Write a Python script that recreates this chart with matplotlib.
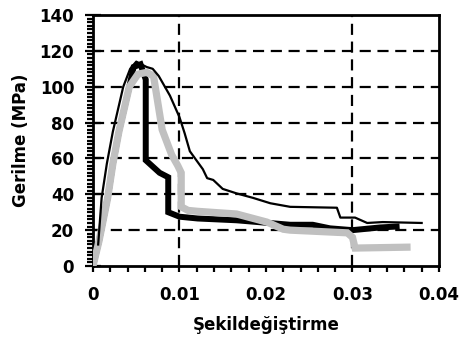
import matplotlib
matplotlib.use("Agg")
import matplotlib.pyplot as plt
from matplotlib.ticker import MultipleLocator

plt.rcParams['font.family'] = ['DejaVu Sans']
plt.rcParams['font.weight'] = 'bold'

# ince siyah egri
ince_x = [0.0006, 0.0010, 0.0016, 0.0023, 0.0035, 0.0043, 0.0050, 0.0062, 0.0069,
          0.0076, 0.0089, 0.0100, 0.0106, 0.0112, 0.0127, 0.0132, 0.0139,
          0.0150, 0.0166, 0.0185, 0.0205, 0.0228, 0.0282, 0.0286, 0.0303,
          0.0317, 0.0335, 0.0380]
ince_y = [12, 38, 57, 75, 100, 110, 114, 111, 110,
          106, 95, 83, 74, 64, 54, 49, 48,
          43, 40.5, 38, 35, 33, 32.5, 27, 27,
          24, 24.5, 24]

# kalin siyah egri
kalin_x = [0.0, 0.0007, 0.0017, 0.0023, 0.0030, 0.0042, 0.0047, 0.0055, 0.0061, 0.0061,
           0.0077, 0.0087, 0.0087, 0.0100, 0.0121, 0.0166, 0.0228, 0.0254,
           0.0274, 0.0300, 0.0332, 0.0351]
kalin_y = [0, 14, 38, 57, 75, 100, 111, 112.5, 104, 59,
           52, 49.5, 30, 27.5, 26.5, 25.5, 23, 23,
           21, 20, 21.5, 22]

# gri egri
gri_x = [0.0, 0.0007, 0.0017, 0.0023, 0.0030, 0.0042, 0.0052, 0.0062, 0.0070, 0.0080,
         0.0091, 0.0098, 0.0102, 0.0102, 0.0110, 0.0121, 0.0166, 0.0201,
         0.0220, 0.0228, 0.0294, 0.0300, 0.0303, 0.0363]
gri_y = [0, 14, 38, 57, 75, 100, 107, 108, 106, 76,
         62, 56, 52, 33, 31, 30.5, 29, 24.5,
         20.5, 20, 18.5, 16, 10, 10.5]

fig = plt.figure(figsize=(4.61, 3.54), dpi=100)
ax = fig.add_axes([0.2017, 0.2486, 0.7505, 0.709])

ax.plot(kalin_x, kalin_y, color='black', lw=4.3, solid_joinstyle='miter', zorder=3)
ax.plot(gri_x, gri_y, color='#c0c0c0', lw=5.2, solid_joinstyle='miter', zorder=4)
ax.plot(ince_x, ince_y, color='black', lw=1.6, zorder=5)

for yy in [20, 40, 60, 80, 100, 120]:
    ax.axhline(yy, color='black', lw=1.6, dashes=(5, 3), zorder=1)
for xx in [0.01, 0.03]:
    ax.axvline(xx, color='black', lw=1.6, dashes=(5, 3), zorder=1)

ax.set_xlim(0, 0.04)
ax.set_ylim(0, 140)
ax.set_xticks([0, 0.01, 0.02, 0.03, 0.04])
ax.set_xticklabels(['0', '0.01', '0.02', '0.03', '0.04'])
ax.xaxis.set_minor_locator(MultipleLocator(0.002))
ax.yaxis.set_major_locator(MultipleLocator(20))
ax.yaxis.set_minor_locator(MultipleLocator(2))

for s in ax.spines.values():
    s.set_linewidth(2)

ax.tick_params(axis='y', which='major', direction='inout', length=11, width=1.6,
               labelsize=12, pad=8)
ax.tick_params(axis='y', which='minor', direction='out', length=4.3, width=1.6)
ax.tick_params(axis='x', which='both', direction='out', length=4.3, width=1.6)
ax.tick_params(axis='x', which='major', labelsize=12, pad=10)

ax.set_xlabel('Şekildeğiştirme', fontsize=12, fontweight='bold', labelpad=9)
ax.set_ylabel('Gerilme (MPa)', fontsize=12, fontweight='bold', labelpad=7)

fig.savefig('out.png', dpi=100)
